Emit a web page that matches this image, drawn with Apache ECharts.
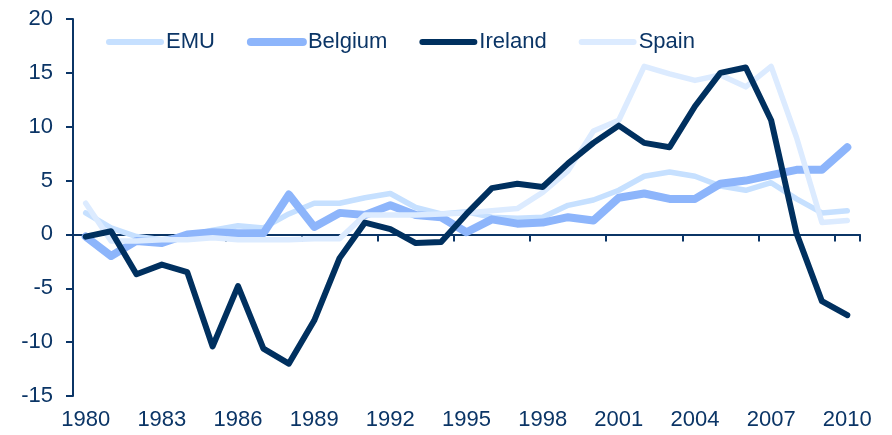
<!DOCTYPE html>
<html>
<head>
<meta charset="utf-8">
<script src="https://cdn.jsdelivr.net/npm/echarts@6/dist/echarts.min.js"></script>
<style>
  html, body { margin: 0; padding: 0; background: #fff; }
  #main { width: 892px; height: 435px; }
</style>
</head>
<body>
<div id="main"></div>
<script>
// years 1980..2010
const years = [];
for (let y = 1980; y <= 2010; y++) years.push(String(y));

const emu = [2.0, 0.6, -0.2, -0.5, -0.1, 0.4, 0.8, 0.6, 1.9, 2.9, 2.9, 3.4, 3.8, 2.5, 1.9, 2.1,
  1.6, 1.5, 1.6, 2.7, 3.2, 4.1, 5.4, 5.8, 5.4, 4.5, 4.1, 4.8, 3.3, 2.0, 2.2];
const belgium = [-0.2, -2.0, -0.6, -0.8, 0.0, 0.2, 0.1, 0.1, 3.7, 0.7, 2.0, 1.8, 2.7, 1.8, 1.6, 0.2,
  1.4, 1.0, 1.1, 1.6, 1.3, 3.4, 3.8, 3.3, 3.3, 4.7, 5.0, 5.5, 6.0, 6.0, 8.1];
const ireland = [-0.2, 0.3, -3.7, -2.8, -3.5, -10.4, -4.8, -10.6, -12.0, -8.0, -2.2, 1.1, 0.5, -0.8, -0.7, 1.9,
  4.3, 4.7, 4.4, 6.6, 8.5, 10.1, 8.5, 8.1, 11.9, 15.0, 15.5, 10.6, 0.1, -6.2, -7.5];
const spain = [2.9, -0.6, -0.6, -0.5, -0.5, -0.3, -0.5, -0.5, -0.5, -0.4, -0.4, 1.8, 1.8, 1.8, 1.9, 2.0,
  2.2, 2.4, 3.9, 5.9, 9.6, 10.6, 15.6, 14.9, 14.3, 14.8, 13.7, 15.6, 9.0, 1.1, 1.3];

const navy = '#0b3566';
const font = 'Arial, "Liberation Sans", sans-serif';

function line(name, data, color, width, z) {
  return {
    name, type: 'line', data, xAxisIndex: 0, yAxisIndex: 0,
    symbol: 'none', z,
    lineStyle: { color, width, cap: 'round', join: 'round' },
    itemStyle: { color },
  };
}

// legend entry: thick rounded line, no symbol
function legendItem(name, color, width) {
  return {
    name,
    lineStyle: { color, width, cap: 'round' },
    itemStyle: { opacity: 0, borderWidth: 0 },
  };
}

const option = {
  animation: false,
  textStyle: { fontFamily: font },
  grid: { left: 73, right: 32, top: 19, bottom: 39 },
  legend: {
    left: 101, top: 26,
    itemWidth: 52, itemHeight: 14, itemGap: 32,
    textStyle: { color: navy, fontSize: 22, fontFamily: font },
    data: [
      legendItem('EMU', '#c6e0ff', 6),
      legendItem('Belgium', '#8db5fb', 8),
      legendItem('Ireland', '#00305f', 6),
      legendItem('Spain', '#dcebff', 6),
    ],
  },
  xAxis: [
    {
      type: 'category', data: years, boundaryGap: true,
      axisLine: { onZero: true, lineStyle: { color: navy, width: 2 } },
      axisTick: { show: true, interval: 2, length: 7, lineStyle: { color: navy, width: 2 } },
      axisLabel: { show: false },
      splitLine: { show: false },
    },
    {
      type: 'category', data: years, boundaryGap: true, position: 'bottom',
      axisLine: { show: false, onZero: false },
      axisTick: { show: false },
      axisLabel: { interval: 2, color: navy, fontSize: 22, margin: 13, fontFamily: font },
      splitLine: { show: false },
    },
  ],
  yAxis: {
    type: 'value', min: -15, max: 20, interval: 5,
    axisLine: { show: true, lineStyle: { color: navy, width: 2 } },
    axisTick: { show: true, length: 7, lineStyle: { color: navy, width: 2 } },
    axisLabel: { color: navy, fontSize: 22, margin: 20, fontFamily: font },
    splitLine: { show: false },
  },
  series: [
    line('EMU', emu, '#c6e0ff', 5.5, 2),
    line('Belgium', belgium, '#8db5fb', 8, 3),
    line('Ireland', ireland, '#00305f', 6, 5),
    line('Spain', spain, '#dcebff', 5.5, 4),
  ],
};

const myChart = echarts.init(document.getElementById('main'));
myChart.setOption(option);
</script>
</body>
</html>
